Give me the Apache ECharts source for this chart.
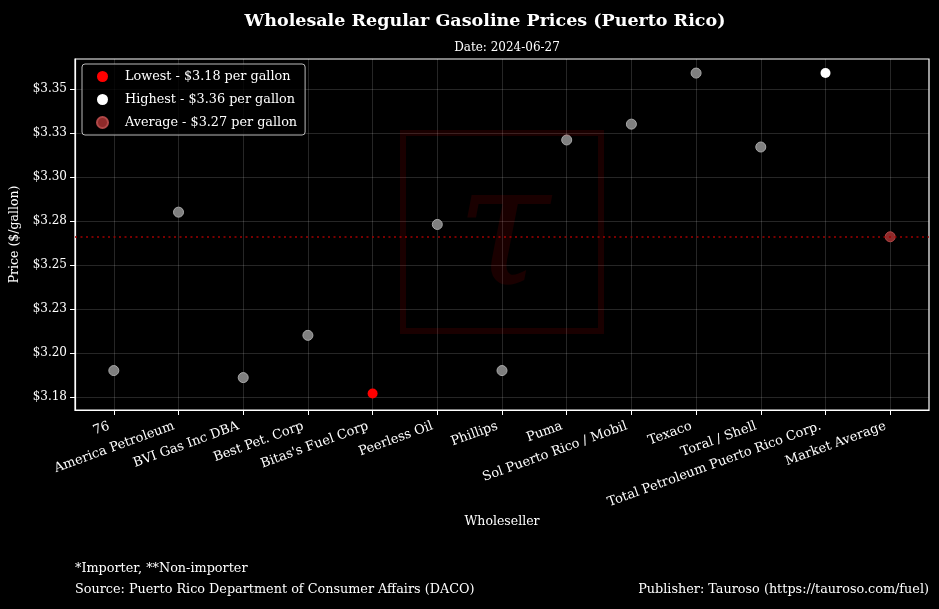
<!DOCTYPE html>
<html>
<head>
<meta charset="utf-8">
<script src="https://cdn.jsdelivr.net/npm/echarts@6/dist/echarts.min.js"></script>
<style>html,body{margin:0;padding:0;background:#000;}#c{width:939px;height:609px;}</style>
</head>
<body>
<div id="c"></div>
<script>
const categories = ['76', 'America Petroleum', 'BVI Gas Inc DBA', 'Best Pet. Corp', "Bitas's Fuel Corp", 'Peerless Oil', 'Phillips', 'Puma', 'Sol Puerto Rico / Mobil', 'Texaco', 'Toral / Shell', 'Total Petroleum Puerto Rico Corp.', 'Market Average'];
const prices = [3.190, 3.280, 3.186, 3.210, 3.177, 3.273, 3.190, 3.321, 3.330, 3.359, 3.317, 3.359, 3.266];
const yTicks = [3.175, 3.200, 3.225, 3.250, 3.275, 3.300, 3.325, 3.350];
const yTickLabels = ['$3.18', '$3.20', '$3.23', '$3.25', '$3.28', '$3.30', '$3.33', '$3.35'];
const titleText = 'Wholesale Regular Gasoline Prices (Puerto Rico)';
const subtitleText = 'Date: 2024-06-27';

const FONT = 'DejaVu Serif, serif';
const n = categories.length;
const avgIdx = n - 1;
const sellers = prices.slice(0, avgIdx);
const minV = Math.min(...sellers), maxV = Math.max(...sellers);
const minIdx = sellers.indexOf(minV);
const maxIdx = sellers.lastIndexOf(maxV);
const avgV = prices[avgIdx];
const fmt = v => '$' + v.toFixed(2);

const normalData = [];
prices.forEach((v, i) => { if (i !== minIdx && i !== maxIdx && i !== avgIdx) normalData.push([i, v]); });

const chart = echarts.init(document.getElementById('c'));
chart.setOption({
  backgroundColor: '#000',
  animation: false,
  textStyle: { fontFamily: FONT },
  title: [
    { text: titleText, left: 480, top: 7, textAlign: 'center',
      textStyle: { color: '#fff', fontSize: 17.5, fontWeight: 'bold', fontFamily: FONT } },
    { text: subtitleText, left: 502, top: 37, textAlign: 'center',
      textStyle: { color: '#fff', fontSize: 12, fontWeight: 'normal', fontFamily: FONT } }
  ],
  legend: {
    left: 82, top: 64, orient: 'vertical',
    padding: [6, 8, 6, 14],
    itemGap: 10, itemWidth: 11, itemHeight: 11,
    borderColor: '#bbb', borderWidth: 1, borderRadius: 3,
    backgroundColor: 'rgba(0,0,0,0.8)',
    textStyle: { color: '#fff', fontSize: 12.8, fontFamily: FONT, padding: [0, 0, 0, 12] },
    data: [
      { name: 'Lowest - ' + fmt(minV) + ' per gallon', icon: 'circle' },
      { name: 'Highest - ' + fmt(maxV) + ' per gallon', icon: 'circle' },
      { name: 'Average - ' + fmt(avgV) + ' per gallon', icon: 'circle' }
    ]
  },
  grid: { left: 75, right: 10, top: 59, bottom: 199, show: true, borderColor: '#fff', borderWidth: 1.2, backgroundColor: '#000' },
  xAxis: {
    type: 'value', min: -0.6, max: 12.6,
    name: 'Wholeseller', nameLocation: 'middle', nameGap: 105,
    nameTextStyle: { color: '#fff', fontSize: 12.5, fontFamily: FONT },
    axisLine: { show: true, onZero: false, lineStyle: { color: '#fff', width: 1.2 } },
    axisTick: { show: true, length: 5, lineStyle: { color: '#fff' }, customValues: categories.map((c, i) => i) },
    axisLabel: { color: '#fff', fontSize: 13, fontFamily: FONT, rotate: 20, margin: 14, padding: [0, 5, 0, 0],
      customValues: categories.map((c, i) => i),
      formatter: v => categories[Math.round(v)] },
    splitLine: { show: true, lineStyle: { color: 'rgba(255,255,255,0.15)', width: 1 } }
  },
  yAxis: {
    type: 'value', min: 3.1676, max: 3.367,
    name: 'Price ($/gallon)', nameLocation: 'middle', nameGap: 54,
    nameTextStyle: { color: '#fff', fontSize: 12.5, fontFamily: FONT },
    axisLine: { show: true, onZero: false, lineStyle: { color: '#fff', width: 1.2 } },
    axisTick: { show: true, length: 5, lineStyle: { color: '#fff' }, customValues: yTicks },
    axisLabel: { color: '#fff', fontSize: 12, fontFamily: FONT, margin: 8,
      customValues: yTicks,
      formatter: v => { let k = 0, d = 1e9; yTicks.forEach((t, i) => { if (Math.abs(t - v) < d) { d = Math.abs(t - v); k = i; } }); return yTickLabels[k]; } },
    splitLine: { show: true, lineStyle: { color: 'rgba(255,255,255,0.15)', width: 1 } }
  },
  graphic: [
    { type: 'rect', silent: true, z: 100, shape: { x: 403, y: 133, width: 198, height: 198 },
      style: { fill: 'none', stroke: 'rgba(255,0,0,0.1)', lineWidth: 6 } },
    { type: 'text', silent: true, z: 100, x: 503, y: 240,
      style: { text: 'τ', fill: 'rgba(255,0,0,0.1)', font: 'italic 170px DejaVu Serif, serif', textAlign: 'center', textVerticalAlign: 'middle' } },
    { type: 'text', left: 75, top: 562, style: { text: '*Importer, **Non-importer', fill: '#fff', font: '12.8px ' + FONT } },
    { type: 'text', left: 75, top: 583, style: { text: 'Source: Puerto Rico Department of Consumer Affairs (DACO)', fill: '#fff', font: '12.8px ' + FONT } },
    { type: 'text', right: 10, top: 583, style: { text: 'Publisher: Tauroso (https://tauroso.com/fuel)', fill: '#fff', font: '12.8px ' + FONT } }
  ],
  series: [
    { type: 'scatter', name: 'normal', symbolSize: 10, z: 3,
      itemStyle: { color: '#7f7f7f', borderColor: '#a8a8a8', borderWidth: 1, opacity: 1 },
      data: normalData,
      markLine: { silent: true, symbol: 'none', precision: 6, label: { show: false },
        lineStyle: { color: '#a00000', type: [2, 3.5], width: 1.5, opacity: 1 },
        data: [{ yAxis: avgV }] } },
    { type: 'scatter', name: 'Lowest - ' + fmt(minV) + ' per gallon', symbolSize: 10, z: 4,
      itemStyle: { color: '#ff0000', opacity: 1 }, data: [[minIdx, minV]] },
    { type: 'scatter', name: 'Highest - ' + fmt(maxV) + ' per gallon', symbolSize: 10, z: 4,
      itemStyle: { color: '#ffffff', opacity: 1 }, data: [[maxIdx, maxV]] },
    { type: 'scatter', name: 'Average - ' + fmt(avgV) + ' per gallon', symbolSize: 10, z: 4,
      itemStyle: { color: '#8e2a2a', borderColor: '#b04848', borderWidth: 1, opacity: 1 }, data: [[avgIdx, avgV]] }
  ]
});
</script>
</body>
</html>
